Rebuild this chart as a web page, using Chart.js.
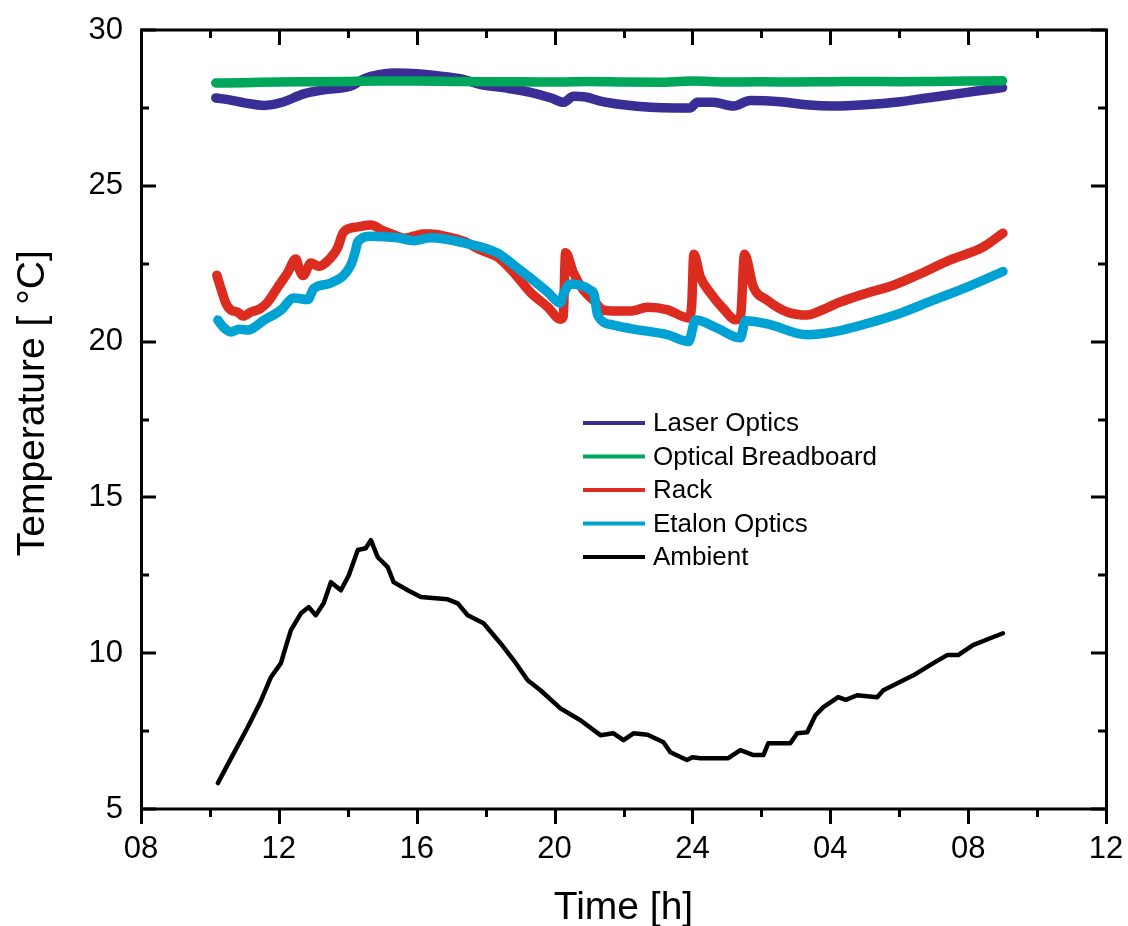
<!DOCTYPE html>
<html><head><meta charset="utf-8">
<script src="https://cdn.jsdelivr.net/npm/chart.js@4"></script>
<style>html,body{margin:0;padding:0;background:#fff}#wrap{width:1128px;height:926px;position:relative}</style>
</head><body><div id="wrap"><canvas id="c" width="1128" height="926"></canvas></div>
<script>
// ---- data (hours since midnight of day 1, temperature in °C) ----
const xTickValues = [8, 12, 16, 20, 24, 28, 32, 36];
const xTickLabels = ['08', '12', '16', '20', '24', '04', '08', '12'];
const seriesNames = ['Laser Optics', 'Optical Breadboard', 'Rack', 'Etalon Optics', 'Ambient'];

const laserHours = [10.17,10.6,11.0,11.57,12.1,12.72,13.3,14.09,14.5,14.9,15.33,16.0,16.9,17.4,17.86,18.5,19.3,19.9,20.26,20.55,20.9,21.33,22.0,22.78,23.5,23.94,24.14,24.6,25.19,25.68,26.55,27.3,28.09,29.0,30.03,30.8,31.48,32.3,33.0];
const laserTemps = [27.82,27.75,27.66,27.58,27.68,27.95,28.08,28.2,28.45,28.57,28.62,28.6,28.49,28.4,28.25,28.15,28.0,27.82,27.68,27.87,27.85,27.72,27.6,27.52,27.5,27.5,27.68,27.68,27.56,27.74,27.7,27.6,27.56,27.6,27.7,27.82,27.92,28.05,28.15];

const boardHours = [10.17,11,12,13,14,15,16,17,18,19,20,21,22,23,24,25,26,27,28,29,30,31,32,33.0];
const boardTemps = [28.30,28.31,28.33,28.34,28.35,28.36,28.36,28.35,28.34,28.34,28.33,28.35,28.33,28.32,28.36,28.33,28.34,28.33,28.34,28.35,28.34,28.35,28.36,28.37];

const rackHours = [10.2,10.35,10.46,10.61,10.8,10.96,11.19,11.45,11.68,11.97,12.25,12.49,12.6,12.7,12.93,13.16,13.51,13.7,13.88,14.29,14.67,15.04,15.4,15.62,15.91,16.2,16.4,16.9,17.36,17.86,18.35,18.81,19.3,19.8,20.17,20.25,20.32,20.55,20.84,21.13,21.42,21.83,22.2,22.7,23.28,23.89,23.98,24.04,24.23,24.52,24.9,25.25,25.4,25.51,25.77,26.17,26.75,27.33,27.62,28.29,29.07,29.83,30.52,31.48,32.43,33.01];
const rackTemps = [22.13,21.6,21.24,21.01,20.95,20.82,20.95,21.05,21.27,21.75,22.2,22.65,22.3,22.12,22.52,22.42,22.7,23.0,23.52,23.68,23.74,23.55,23.4,23.32,23.38,23.45,23.45,23.36,23.22,22.94,22.71,22.22,21.58,21.11,20.72,20.8,22.85,22.2,21.65,21.33,21.01,20.98,20.98,21.1,21.02,20.76,21.2,22.8,22.07,21.56,21.05,20.7,20.85,22.8,21.75,21.33,20.95,20.85,20.95,21.27,21.56,21.81,22.13,22.62,23.03,23.48];

const etalonHours = [10.23,10.4,10.61,10.85,11.1,11.57,12.06,12.43,12.84,13.01,13.51,14.09,14.22,14.29,14.67,15.45,15.91,16.4,17.36,18.35,18.81,19.3,19.8,20.17,20.25,20.46,21.04,21.15,21.25,21.71,22.3,23.28,23.89,24.09,24.72,25.39,25.54,26.17,27.33,28.09,29.07,30.03,30.99,31.97,33.01];
const etalonTemps = [20.69,20.45,20.31,20.4,20.37,20.69,21.01,21.4,21.35,21.7,21.88,22.46,22.9,23.2,23.38,23.33,23.24,23.33,23.17,22.84,22.46,22.04,21.59,21.24,21.5,21.85,21.65,21.5,20.85,20.53,20.4,20.22,20.0,20.69,20.43,20.12,20.67,20.57,20.22,20.31,20.58,20.91,21.33,21.75,22.25];

const ambientHours = [10.23,10.6,11.1,11.45,11.77,12.06,12.2,12.35,12.64,12.87,13.07,13.3,13.51,13.8,14.03,14.29,14.52,14.67,14.87,15.16,15.33,15.74,16.12,16.9,17.19,17.48,17.94,18.43,18.81,19.22,19.59,20.17,20.75,21.33,21.71,22.0,22.29,22.7,23.16,23.36,23.84,24.0,24.23,25.04,25.39,25.77,26.06,26.2,26.84,27.04,27.33,27.57,27.8,28.23,28.45,28.78,29.36,29.54,29.83,30.41,30.99,31.39,31.71,32.14,32.64,33.01];
const ambientTemps = [5.83,6.6,7.63,8.4,9.23,9.68,10.2,10.74,11.28,11.48,11.22,11.6,12.28,12.02,12.5,13.31,13.37,13.63,13.08,12.76,12.28,12.02,11.8,11.73,11.6,11.22,10.96,10.32,9.78,9.13,8.81,8.23,7.85,7.37,7.43,7.21,7.43,7.38,7.14,6.82,6.57,6.66,6.63,6.63,6.89,6.73,6.73,7.11,7.11,7.43,7.46,8.01,8.27,8.59,8.5,8.65,8.59,8.81,8.97,9.29,9.68,9.94,9.94,10.26,10.48,10.64];

// ---- build ----
const FONT = "'Liberation Sans', Arial, Helvetica, sans-serif";
function pts(h, t) { return h.map((v, i) => ({ x: v, y: t[i] })); }
const colors = ['#3a2d96', '#00a65a', '#dc2b1f', '#00a2d3', '#000000'];
const widths = [9.5, 9.5, 9.5, 9.5, 4.5];
const orders = [5, 4, 3, 2, 1];
const smooth = [true, true, true, true, false];
const allData = [pts(laserHours, laserTemps), pts(boardHours, boardTemps), pts(rackHours, rackTemps), pts(etalonHours, etalonTemps), pts(ambientHours, ambientTemps)];

const datasets = seriesNames.map((n, i) => ({
  label: n, data: allData[i], borderColor: colors[i], backgroundColor: colors[i],
  borderWidth: widths[i], pointRadius: 0, order: orders[i],
  tension: smooth[i] ? 0.4 : 0, cubicInterpolationMode: smooth[i] ? 'monotone' : 'default',
  borderJoinStyle: 'round', borderCapStyle: 'round', fill: false
}));

function zeroPad(s) { s.paddingLeft = 0; s.paddingRight = 0; s.paddingTop = 0; s.paddingBottom = 0; }

const frameTicks = {
  id: 'frameTicks',
  afterDraw(chart) {
    const { ctx, chartArea: a, scales: { x, y } } = chart;
    ctx.save();
    ctx.strokeStyle = '#000';
    ctx.lineWidth = 3;
    ctx.lineCap = 'square';
    ctx.strokeRect(a.left + 0.5, a.top, a.right - a.left, a.bottom - a.top);
    ctx.lineCap = 'butt';
    ctx.beginPath();
    for (let v = 8; v <= 36; v += 2) {
      const px = Math.round(x.getPixelForValue(v)) + 0.5;
      const len = (v % 4 === 0) ? 15 : 8;
      ctx.moveTo(px, a.bottom); ctx.lineTo(px, a.bottom + len);
      ctx.moveTo(px, a.top); ctx.lineTo(px, a.top + len);
    }
    for (let v = 5; v <= 30; v += 2.5) {
      const py = Math.round(y.getPixelForValue(v));
      const len = (v % 5 === 0) ? 15 : 8;
      ctx.moveTo(a.left, py); ctx.lineTo(a.left + len, py);
      ctx.moveTo(a.right, py); ctx.lineTo(a.right - len, py);
    }
    ctx.stroke();
    ctx.restore();
  }
};

const insideLegend = {
  id: 'insideLegend',
  afterDraw(chart) {
    const { ctx, chartArea: a } = chart;
    const x0 = a.left + 442, x1 = a.left + 504, tx = a.left + 512;
    const y0 = a.top + 393, dy = 33.5;
    ctx.save();
    ctx.font = '26px ' + FONT;
    ctx.textBaseline = 'middle';
    ctx.textAlign = 'left';
    chart.data.datasets.forEach((ds, i) => {
      const yy = y0 + i * dy;
      ctx.strokeStyle = ds.borderColor;
      ctx.lineWidth = 4;
      ctx.beginPath(); ctx.moveTo(x0, yy); ctx.lineTo(x1, yy); ctx.stroke();
      ctx.fillStyle = '#000';
      ctx.fillText(ds.label, tx, yy + 1);
    });
    ctx.restore();
  }
};

new Chart(document.getElementById('c'), {
  type: 'line',
  data: { datasets },
  options: {
    responsive: false, animation: false, devicePixelRatio: 1,
    layout: { padding: { top: 30, right: 22, bottom: 0, left: 0 } },
    plugins: { legend: { display: false }, tooltip: { enabled: false } },
    scales: {
      x: {
        type: 'linear', min: 8, max: 36,
        afterFit(s) { s.height = 117; zeroPad(s); },
        afterBuildTicks(s) { s.ticks = xTickValues.map(v => ({ value: v })); },
        grid: { display: false, drawTicks: false }, border: { display: false },
        ticks: { color: '#000', font: { family: FONT, size: 31 }, padding: 22, maxRotation: 0, autoSkip: false,
          callback: (v) => { const i = xTickValues.indexOf(v); return i >= 0 ? xTickLabels[i] : ''; } },
        title: { display: true, text: 'Time [h]', color: '#000', font: { family: FONT, size: 39, lineHeight: 1 }, padding: { top: 0, bottom: -2 } }
      },
      y: {
        type: 'linear', min: 5, max: 30,
        afterFit(s) { s.width = 141; zeroPad(s); },
        grid: { display: false, drawTicks: false }, border: { display: false },
        ticks: { stepSize: 5, color: '#000', font: { family: FONT, size: 31 }, padding: 18 },
        title: { display: true, text: '\u00a0\u00a0\u00a0Temperature [ °C]', color: '#000', font: { family: FONT, size: 39, lineHeight: 1 }, padding: { top: 14, bottom: 0 } }
      }
    }
  },
  plugins: [frameTicks, insideLegend]
});
</script>
</body></html>
